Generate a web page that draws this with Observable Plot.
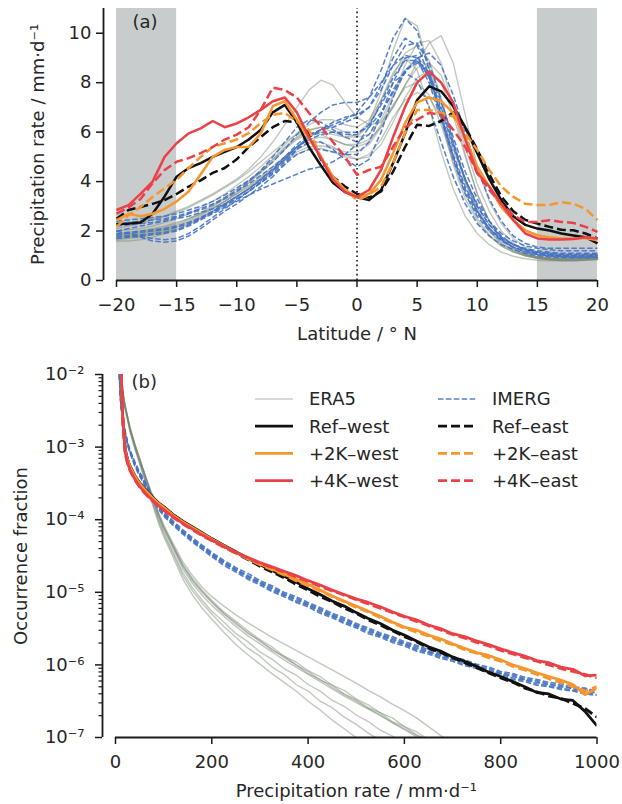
<!DOCTYPE html>
<html><head><meta charset="utf-8">
<script src="https://cdn.jsdelivr.net/npm/d3@7"></script>
<script src="https://cdn.jsdelivr.net/npm/@observablehq/plot@0.6"></script>
<style>
body{margin:0;background:#fff}
#chart{width:622px}
#chart svg{display:block}
</style>
</head><body><div id="chart"></div>
<script>
// ---------------- Panel (a): zonal-mean precipitation vs latitude ----------------
const latitudes = [-20,-19,-18,-17,-16,-15,-14,-13,-12,-11,-10,-9,-8,-7,-6,-5,-4,-3,-2,-1,0,1,2,3,4,5,6,7,8,9,10,11,12,13,14,15,16,17,18,19,20];
const latTicks = [-20,-15,-10,-5,0,5,10,15,20];
const latTickLabels = ["−20","−15","−10","−5","0","5","10","15","20"];
const rateTicks = [0,2,4,6,8,10];
const shadeStart = [-20, 15];
const shadeEnd = [-15, 20];

const refWestLat  = [2.28,2.3,2.35,2.7,3.4,4.2,4.55,4.75,5.0,5.2, 5.4,5.7,6.1,6.8,7.1,6.4,5.4,4.65,3.95,3.58, 3.38,3.25,3.65,4.75,5.95,7.3,7.85,7.65,7.05,6.2, 5.15,4.1,3.25,2.6,2.25,2.1,2.02,1.9,1.82,1.75,1.5];
const refEastLat  = [2.5,2.85,2.97,3.1,3.25,3.5,3.8,4.05,4.35,4.55, 4.9,5.4,5.8,6.2,6.45,6.4,5.95,4.9,4.2,3.8, 3.5,3.35,3.6,4.4,5.4,6.3,6.25,6.45,6.8,6.2, 5.3,4.3,3.4,2.8,2.45,2.3,2.17,2.05,2.03,1.9,1.7];
const plus2WestLat = [2.44,2.7,2.6,2.7,2.9,3.2,3.6,4.3,5.0,5.28, 5.4,5.4,5.95,7.05,7.25,6.5,5.75,5.0,4.2,3.66, 3.38,3.5,4.07,5.15,6.37,7.2,7.4,7.25,6.78,5.8, 4.6,3.8,2.97,2.44,2.03,1.83,1.75,1.7,1.7,1.72,1.63];
const plus2EastLat = [2.17,2.64,2.97,3.38,3.73,4.07,4.55,5.0,5.4,5.55, 5.7,5.96,6.37,6.7,6.78,6.43,6.1,5.0,4.2,3.66, 3.25,3.46,3.8,4.75,5.97,6.9,6.9,6.78,6.63,5.96, 5.28,4.47,3.8,3.38,3.1,3.05,3.05,3.17,3.1,2.9,2.44];
const plus4WestLat = [2.85,3.05,3.5,4.0,5.0,5.55,5.95,6.15,6.45,6.2, 6.35,6.6,6.9,7.25,7.4,6.8,5.8,4.95,4.07,3.58, 3.38,3.66,4.47,5.8,7.03,8.0,8.45,8.0,7.2,5.7, 4.34,3.8,3.1,2.44,1.9,1.7,1.66,1.66,1.68,1.75,1.7];
const plus4EastLat = [2.7,2.95,3.3,3.93,4.47,4.8,4.95,5.15,5.4,5.7, 5.9,6.2,6.9,7.8,7.7,7.4,6.78,6.23,5.6,5.0, 4.27,4.47,4.6,5.4,6.2,6.5,6.78,6.7,6.1,5.4, 4.34,3.66,3.1,2.64,2.37,2.37,2.44,2.37,2.33,2.17,1.97];

const era5Lat = [
[1.8,1.85,1.9,2.0,2.1,2.25,2.45,2.7,3.0,3.3, 3.6,3.95,4.35,4.8,5.3,5.7,5.95,6.0,5.9,5.8, 5.9,6.4,7.6,9.3,10.6,10.3,8.6,6.5,4.7,3.3, 2.4,1.8,1.4,1.15,1.0,0.9,0.85,0.85,0.85,0.88,0.9],
[2.1,2.2,2.3,2.45,2.6,2.8,3.0,3.25,3.5,3.8, 4.1,4.5,5.0,5.6,6.3,7.0,7.7,8.1,7.9,7.2, 6.6,6.3,6.4,7.0,7.9,8.8,9.6,9.9,8.8,6.7, 4.6,3.2,2.3,1.7,1.35,1.15,1.05,1.0,1.0,1.0,1.05],
[1.7,1.75,1.8,1.9,2.0,2.15,2.35,2.6,2.9,3.2, 3.5,3.85,4.2,4.6,5.0,5.4,5.7,5.8,5.7,5.5, 5.4,5.6,6.3,7.4,8.5,9.0,8.6,7.3,5.6,4.0, 2.8,2.0,1.5,1.2,1.0,0.9,0.85,0.8,0.8,0.82,0.85],
[1.6,1.6,1.65,1.75,1.9,2.05,2.25,2.5,2.75,3.05, 3.35,3.7,4.1,4.5,4.95,5.3,5.55,5.6,5.4,5.1, 4.9,5.0,5.5,6.4,7.4,8.2,8.5,8.0,6.7,5.0, 3.5,2.4,1.7,1.3,1.05,0.92,0.85,0.82,0.82,0.85,0.88],
[2.0,2.05,2.1,2.2,2.35,2.5,2.7,2.95,3.2,3.5, 3.85,4.2,4.6,5.05,5.5,5.95,6.3,6.5,6.5,6.3, 6.2,6.5,7.3,8.3,9.2,9.5,8.9,7.4,5.6,4.0, 2.8,2.0,1.5,1.2,1.05,0.95,0.9,0.9,0.9,0.92,0.95],
[1.9,1.95,2.0,2.1,2.2,2.35,2.5,2.7,2.95,3.2, 3.5,3.8,4.15,4.5,4.85,5.1,5.3,5.35,5.2,5.0, 4.9,5.1,5.7,6.6,7.3,7.6,7.4,6.6,5.3,4.0, 2.9,2.1,1.6,1.25,1.05,0.95,0.9,0.88,0.88,0.9,0.92],
[1.75,1.8,1.85,1.95,2.05,2.2,2.4,2.65,2.9,3.2, 3.55,3.95,4.4,4.9,5.4,5.8,6.1,6.2,6.0,5.8, 5.8,6.3,7.3,8.4,9.0,8.5,7.0,5.2,3.7,2.6, 1.9,1.45,1.15,0.98,0.88,0.82,0.8,0.8,0.8,0.82,0.85],
[2.3,2.35,2.4,2.5,2.6,2.75,2.95,3.2,3.45,3.75, 4.05,4.4,4.8,5.2,5.6,5.9,6.0,5.9,5.7,5.5, 5.5,5.7,6.2,7.0,7.9,8.6,8.8,8.3,7.0,5.4, 3.9,2.8,2.0,1.5,1.2,1.05,0.98,0.95,0.95,0.97,1.0],
[1.65,1.7,1.75,1.85,1.95,2.1,2.3,2.55,2.8,3.1, 3.4,3.75,4.1,4.5,4.9,5.2,5.4,5.45,5.35,5.2, 5.2,5.5,6.2,7.1,7.8,8.0,7.5,6.3,4.8,3.5, 2.5,1.85,1.4,1.15,1.0,0.9,0.85,0.83,0.83,0.85,0.87],
[1.85,1.9,1.95,2.05,2.15,2.3,2.5,2.75,3.05,3.35, 3.7,4.05,4.45,4.9,5.35,5.75,6.05,6.2,6.2,6.0, 5.8,5.9,6.5,7.5,8.7,9.6,9.7,8.8,7.0,5.1, 3.5,2.4,1.7,1.3,1.08,0.96,0.9,0.88,0.88,0.9,0.93]
];

const imergLat = [
[2.0,2.1,2.2,2.3,2.4,2.5,2.6,2.75,2.9,3.1, 3.4,3.7,4.1,4.5,5.0,5.5,5.9,6.1,6.2,6.4, 6.6,7.0,7.9,9.0,9.8,9.5,8.3,6.7,5.0,3.6, 2.7,2.1,1.7,1.45,1.3,1.2,1.15,1.1,1.1,1.1,1.1],
[1.8,1.8,1.75,1.6,1.55,1.6,1.8,2.1,2.45,2.8, 3.1,3.45,3.8,4.2,4.7,5.3,5.8,6.1,6.3,6.5, 6.8,7.4,8.5,9.8,10.6,10.1,8.5,6.6,4.9,3.5, 2.6,2.0,1.6,1.35,1.2,1.1,1.05,1.0,1.0,1.0,1.0],
[1.7,1.75,1.8,1.85,1.9,2.0,2.2,2.45,2.7,2.95, 3.2,3.45,3.7,3.9,4.1,4.3,4.5,4.6,4.8,5.1, 5.5,6.2,7.2,8.2,8.9,8.9,8.0,6.5,5.0,3.7, 2.8,2.1,1.65,1.35,1.15,1.05,1.0,0.97,0.95,0.95,0.95],
[2.4,2.45,2.5,2.55,2.6,2.7,2.85,3.0,3.2,3.45, 3.75,4.05,4.4,4.8,5.3,5.9,6.4,6.8,7.1,7.2, 7.2,7.4,8.0,8.7,9.1,9.0,8.2,6.9,5.4,4.1, 3.1,2.4,1.9,1.6,1.4,1.3,1.25,1.2,1.2,1.2,1.2],
[1.9,1.95,2.0,2.05,2.1,2.2,2.35,2.55,2.8,3.05, 3.3,3.6,3.95,4.35,4.8,5.3,5.6,5.6,5.3,4.9, 4.6,4.9,6.0,7.4,8.5,8.9,8.4,7.2,5.8,4.4, 3.3,2.4,1.8,1.45,1.25,1.1,1.05,1.0,1.0,1.0,1.02],
[2.2,2.25,2.3,2.35,2.45,2.55,2.7,2.85,3.05,3.3, 3.6,3.9,4.25,4.6,5.0,5.4,5.7,5.9,6.0,6.0, 6.0,6.2,6.8,7.6,8.4,9.0,9.2,8.7,7.5,6.0, 4.5,3.3,2.4,1.8,1.5,1.35,1.3,1.3,1.3,1.3,1.3],
[1.75,1.8,1.85,1.9,1.95,2.05,2.25,2.5,2.8,3.1, 3.4,3.7,4.05,4.45,4.9,5.4,5.8,6.0,6.0,5.9, 5.9,6.3,7.1,8.0,8.4,8.1,7.0,5.6,4.2,3.1, 2.3,1.8,1.45,1.25,1.1,1.0,0.95,0.93,0.92,0.92,0.93],
[2.0,1.9,1.8,1.7,1.65,1.7,1.9,2.2,2.55,2.9, 3.25,3.6,4.0,4.4,4.9,5.4,5.8,6.1,6.4,6.6, 6.7,7.0,7.7,8.7,9.5,9.6,8.8,7.3,5.6,4.1, 3.0,2.25,1.75,1.45,1.25,1.15,1.1,1.05,1.05,1.05,1.05],
[2.3,2.35,2.4,2.45,2.5,2.6,2.75,2.9,3.1,3.35, 3.65,4.0,4.45,5.0,5.6,6.2,6.5,6.4,6.1,5.8, 5.6,5.9,6.7,7.7,8.5,8.8,8.3,7.0,5.5,4.1, 3.0,2.25,1.75,1.45,1.25,1.15,1.1,1.05,1.05,1.05,1.05],
[1.85,1.9,1.95,2.0,2.05,2.15,2.3,2.5,2.75,3.0, 3.3,3.6,3.95,4.3,4.7,5.1,5.3,5.3,5.2,5.1, 5.1,5.6,6.7,8.0,9.0,9.1,8.2,6.7,5.1,3.8, 2.8,2.1,1.65,1.35,1.15,1.05,1.0,0.98,0.97,0.97,0.98]
];

// ---------------- Panel (b): occurrence fraction vs precipitation rate (log10 values) ----------------
const rainMain = [8,10,12,15,20,25,30,40,50,60,70,80,90,100,120,140,160,180,200,225,250,275,300,325,350,375,400,425,450,475,500,525,550,575,600,625,650,675,700,725,750,775,800,825,850,875,900,925,950,975,1000];
const refWestPdf  = [-1.5,-1.75,-2.0,-2.6,-3.02,-3.17,-3.26,-3.39,-3.49,-3.57,-3.64,-3.71,-3.77,-3.82,-3.93,-4.02,-4.10,-4.18,-4.26,-4.35,-4.44,-4.53,-4.62,-4.70,-4.78,-4.86,-4.95,-5.03,-5.12,-5.19,-5.28,-5.36,-5.43,-5.52,-5.59,-5.67,-5.75,-5.81,-5.89,-5.95,-6.02,-6.10,-6.16,-6.23,-6.30,-6.38,-6.40,-6.47,-6.49,-6.64,-6.84];
const refEastPdf  = [-1.52,-1.77,-2.02,-2.62,-3.04,-3.18,-3.27,-3.40,-3.50,-3.58,-3.65,-3.72,-3.78,-3.83,-3.94,-4.03,-4.12,-4.20,-4.28,-4.37,-4.46,-4.55,-4.64,-4.72,-4.80,-4.89,-4.97,-5.06,-5.13,-5.22,-5.29,-5.38,-5.45,-5.53,-5.61,-5.68,-5.77,-5.83,-5.90,-5.97,-6.04,-6.11,-6.18,-6.24,-6.32,-6.37,-6.43,-6.46,-6.53,-6.60,-6.72];
const plus2WestPdf = [-1.52,-1.77,-2.02,-2.6,-3.05,-3.18,-3.27,-3.40,-3.50,-3.58,-3.65,-3.72,-3.78,-3.83,-3.94,-4.03,-4.11,-4.19,-4.27,-4.36,-4.45,-4.53,-4.61,-4.68,-4.75,-4.82,-4.89,-4.97,-5.05,-5.12,-5.19,-5.26,-5.33,-5.41,-5.48,-5.52,-5.59,-5.64,-5.71,-5.77,-5.83,-5.87,-5.93,-6.00,-6.05,-6.11,-6.16,-6.21,-6.27,-6.41,-6.32];
const plus2EastPdf = [-1.53,-1.78,-2.03,-2.61,-3.06,-3.19,-3.28,-3.41,-3.51,-3.59,-3.66,-3.73,-3.79,-3.84,-3.95,-4.04,-4.12,-4.20,-4.28,-4.37,-4.46,-4.54,-4.62,-4.69,-4.76,-4.84,-4.91,-4.98,-5.06,-5.13,-5.21,-5.27,-5.35,-5.42,-5.49,-5.55,-5.60,-5.67,-5.72,-5.79,-5.84,-5.90,-5.95,-6.02,-6.07,-6.13,-6.19,-6.24,-6.30,-6.36,-6.30];
const plus4WestPdf = [-1.5,-1.75,-2.0,-2.58,-3.07,-3.22,-3.31,-3.44,-3.54,-3.62,-3.69,-3.75,-3.81,-3.86,-3.96,-4.05,-4.13,-4.21,-4.28,-4.37,-4.45,-4.52,-4.59,-4.65,-4.71,-4.77,-4.84,-4.90,-4.97,-5.03,-5.09,-5.14,-5.20,-5.27,-5.33,-5.38,-5.45,-5.50,-5.57,-5.61,-5.67,-5.72,-5.78,-5.83,-5.88,-5.94,-5.97,-6.03,-6.06,-6.15,-6.14];
const plus4EastPdf = [-1.51,-1.76,-2.01,-2.59,-3.08,-3.23,-3.32,-3.45,-3.55,-3.63,-3.70,-3.76,-3.82,-3.87,-3.97,-4.06,-4.14,-4.22,-4.29,-4.38,-4.46,-4.53,-4.60,-4.66,-4.72,-4.79,-4.85,-4.92,-4.98,-5.04,-5.10,-5.16,-5.22,-5.28,-5.34,-5.40,-5.46,-5.52,-5.58,-5.63,-5.69,-5.74,-5.80,-5.85,-5.90,-5.95,-6.00,-6.05,-6.09,-6.13,-6.18];

const imergPdf = [
[-2.0,-2.3,-2.45,-2.6,-2.8,-2.95,-3.06,-3.23,-3.37,-3.49,-3.61,-3.73,-3.83,-3.92,-4.05,-4.17,-4.28,-4.38,-4.48,-4.59,-4.69,-4.78,-4.87,-4.95,-5.03,-5.10,-5.17,-5.25,-5.32,-5.39,-5.46,-5.53,-5.59,-5.65,-5.71,-5.77,-5.82,-5.87,-5.92,-5.97,-6.02,-6.07,-6.12,-6.16,-6.20,-6.24,-6.27,-6.30,-6.33,-6.36,-6.39],
[-1.98,-2.28,-2.43,-2.58,-2.78,-2.93,-3.04,-3.2,-3.34,-3.46,-3.58,-3.7,-3.8,-3.89,-4.02,-4.14,-4.25,-4.35,-4.45,-4.56,-4.66,-4.74,-4.84,-4.91,-5.0,-5.06,-5.14,-5.21,-5.29,-5.35,-5.43,-5.49,-5.56,-5.61,-5.68,-5.73,-5.79,-5.83,-5.89,-5.93,-5.99,-6.03,-6.09,-6.12,-6.17,-6.2,-6.24,-6.26,-6.3,-6.32,-6.36],
[-2.02,-2.32,-2.47,-2.62,-2.82,-2.97,-3.08,-3.26,-3.4,-3.52,-3.64,-3.76,-3.86,-3.95,-4.08,-4.2,-4.31,-4.41,-4.51,-4.63,-4.72,-4.82,-4.9,-4.99,-5.06,-5.14,-5.2,-5.29,-5.35,-5.43,-5.49,-5.57,-5.62,-5.69,-5.74,-5.81,-5.85,-5.91,-5.95,-6.01,-6.05,-6.11,-6.15,-6.2,-6.23,-6.28,-6.3,-6.34,-6.36,-6.4,-6.42],
[-2.0,-2.31,-2.46,-2.61,-2.8,-2.95,-3.07,-3.24,-3.38,-3.5,-3.62,-3.74,-3.84,-3.93,-4.06,-4.18,-4.29,-4.39,-4.49,-4.61,-4.7,-4.8,-4.88,-4.97,-5.04,-5.12,-5.18,-5.27,-5.33,-5.41,-5.47,-5.55,-5.6,-5.67,-5.72,-5.79,-5.83,-5.89,-5.93,-5.99,-6.03,-6.09,-6.13,-6.18,-6.21,-6.26,-6.29,-6.32,-6.35,-6.38,-6.41],
[-1.99,-2.29,-2.44,-2.59,-2.79,-2.94,-3.05,-3.22,-3.36,-3.48,-3.6,-3.72,-3.82,-3.91,-4.04,-4.16,-4.27,-4.37,-4.47,-4.58,-4.68,-4.77,-4.86,-4.93,-5.02,-5.08,-5.16,-5.23,-5.31,-5.37,-5.45,-5.51,-5.58,-5.63,-5.7,-5.75,-5.81,-5.85,-5.91,-5.95,-6.01,-6.05,-6.11,-6.14,-6.19,-6.22,-6.26,-6.28,-6.32,-6.34,-6.37]
];

const rainEra5 = [5,8,10,15,20,30,40,50,60,70,80,90,100,120,140,160,180,200,225,250,275,300,325,350,375,400,425,450,475,500,525,550,575,600,625,650,675,700];
const era5Pdf = [
[-1.7,-1.95,-2.05,-2.25,-2.45,-2.75,-2.98,-3.18,-3.38,-3.58,-3.78,-3.97,-4.13,-4.40,-4.68,-4.88,-5.04,-5.18,-5.33,-5.47,-5.60,-5.71,-5.82,-5.93,-6.03,-6.13,-6.23,-6.33,-6.43,-6.52,-6.61,-6.70,-6.79,-6.88,-6.97,-7.06,-7.15,-7.25],
[-1.68,-1.92,-2.02,-2.22,-2.42,-2.72,-2.95,-3.15,-3.35,-3.54,-3.73,-3.91,-4.07,-4.33,-4.58,-4.77,-4.93,-5.06,-5.19,-5.31,-5.42,-5.52,-5.62,-5.71,-5.80,-5.89,-5.98,-6.07,-6.16,-6.25,-6.35,-6.44,-6.54,-6.63,-6.73,-6.85,-6.97,-7.08],
[-1.72,-1.97,-2.07,-2.28,-2.48,-2.79,-3.02,-3.23,-3.44,-3.65,-3.86,-4.06,-4.23,-4.52,-4.82,-5.04,-5.22,-5.37,-5.55,-5.72,-5.86,-5.99,-6.12,-6.24,-6.36,-6.50,-6.62,-6.76,-6.88,-7.0,-7.12,-7.25,-7.35,-7.45,-7.55,-7.65,-7.75,-7.85],
[-1.69,-1.94,-2.04,-2.24,-2.44,-2.74,-2.97,-3.17,-3.37,-3.57,-3.76,-3.95,-4.11,-4.38,-4.65,-4.85,-5.0,-5.14,-5.30,-5.42,-5.57,-5.66,-5.80,-5.88,-6.0,-6.09,-6.21,-6.28,-6.40,-6.48,-6.59,-6.66,-6.78,-6.85,-6.96,-7.04,-7.14,-7.24],
[-1.71,-1.96,-2.06,-2.26,-2.46,-2.76,-3.0,-3.2,-3.4,-3.61,-3.81,-4.0,-4.17,-4.45,-4.73,-4.94,-5.11,-5.26,-5.41,-5.57,-5.68,-5.82,-5.92,-6.05,-6.14,-6.27,-6.36,-6.49,-6.57,-6.69,-6.78,-6.90,-6.98,-7.1,-7.2,-7.3,-7.4,-7.5],
[-1.7,-1.95,-2.05,-2.24,-2.44,-2.74,-2.97,-3.16,-3.36,-3.55,-3.75,-3.93,-4.09,-4.36,-4.62,-4.81,-4.97,-5.11,-5.27,-5.40,-5.53,-5.65,-5.75,-5.88,-5.96,-6.08,-6.16,-6.28,-6.35,-6.47,-6.55,-6.66,-6.73,-6.85,-6.92,-7.03,-7.1,-7.2],
[-1.71,-1.96,-2.06,-2.27,-2.47,-2.77,-3.01,-3.21,-3.42,-3.63,-3.83,-4.03,-4.2,-4.48,-4.77,-4.98,-5.15,-5.30,-5.47,-5.62,-5.77,-5.88,-6.03,-6.13,-6.27,-6.36,-6.50,-6.59,-6.72,-6.82,-6.94,-7.04,-7.15,-7.25,-7.35,-7.45,-7.55,-7.65],
[-1.69,-1.93,-2.03,-2.23,-2.43,-2.73,-2.96,-3.16,-3.36,-3.56,-3.75,-3.94,-4.1,-4.37,-4.63,-4.83,-4.99,-5.13,-5.29,-5.44,-5.55,-5.68,-5.78,-5.90,-6.0,-6.12,-6.2,-6.31,-6.41,-6.50,-6.60,-6.69,-6.80,-6.89,-6.99,-7.08,-7.18,-7.28]
];

const rainTicks = [0,200,400,600,800,1000];
const fracTicks = [1e-7,1e-6,1e-5,1e-4,1e-3,1e-2];
const fracTickLabels = ["10⁻⁷","10⁻⁶","10⁻⁵","10⁻⁴","10⁻³","10⁻²"];
const minorMantissas = [2,3,4,5,6,7,8,9];

const legendLabels = ["ERA5","Ref–west","+2K–west","+4K–west","IMERG","Ref–east","+2K–east","+4K–east"];

// ---------------- styles ----------------
const FONT = "'DejaVu Sans', sans-serif";
const INK = "#262626";
const SPINE = "#1a1a1a";
const ERA5_C = "#768470";
const IMERG_C = "#4472c4";
const REF_C = "#111111";
const P2_C = "#f5962f";
const P4_C = "#ea4148";
const EAST_DASH = "9,4";
const IMERG_DASH = "5.5,2.4";

const era5RowsA = era5Lat.flatMap((vals, k) => vals.map((v, i) => ({lat: latitudes[i], v, run: k})));
const imergRowsA = imergLat.flatMap((vals, k) => vals.map((v, i) => ({lat: latitudes[i], v, run: k})));
const era5RowsB = era5Pdf.flatMap((vals, k) => vals.map((e, i) => ({p: rainEra5[i], f: Math.pow(10, e), run: k})));
const imergRowsB = imergPdf.flatMap((vals, k) => vals.map((e, i) => ({p: rainMain[i], f: Math.pow(10, e), run: k})));
const pdfRows = (vals) => vals.map((e, i) => ({p: rainMain[i], f: Math.pow(10, e)}));
const minorTicks = fracTicks.slice(0, -1).flatMap(d => minorMantissas.map(m => m * d));

const mainA = (vals, color, dashed) => Plot.line(vals, {
  x: latitudes, y: vals, stroke: color, strokeWidth: 2.5,
  strokeDasharray: dashed ? EAST_DASH : null, strokeLinecap: "butt", strokeLinejoin: "round"
});
const mainB = (vals, color, dashed) => Plot.line(pdfRows(vals), {
  x: "p", y: "f", stroke: color, strokeWidth: 2.8, clip: true,
  strokeDasharray: dashed ? EAST_DASH : null, strokeLinecap: "butt", strokeLinejoin: "round"
});

const chartA = Plot.plot({
  width: 622, height: 345,
  marginLeft: 116, marginRight: 25, marginTop: 8, marginBottom: 65,
  style: {fontFamily: FONT, fontSize: "18px", color: INK, background: "#fff", overflow: "visible"},
  x: {domain: [-20, 20], label: null},
  y: {domain: [0, 11], label: null},
  marks: [
    Plot.rect(shadeStart, {x1: shadeStart, x2: shadeEnd, y1: 0, y2: 11, fill: "#c9cccc"}),
    Plot.line(era5RowsA, {x: "lat", y: "v", z: "run", stroke: ERA5_C, strokeOpacity: 0.45, strokeWidth: 1.4}),
    Plot.line(imergRowsA, {x: "lat", y: "v", z: "run", stroke: IMERG_C, strokeOpacity: 0.9, strokeWidth: 1.5, strokeDasharray: IMERG_DASH, strokeLinecap: "butt"}),
    Plot.ruleX([0], {y1: 0, y2: 11, stroke: "#111", strokeWidth: 1.6, strokeDasharray: "1.6,3", strokeLinecap: "butt"}),
    mainA(refWestLat, REF_C, false),
    mainA(refEastLat, REF_C, true),
    mainA(plus2WestLat, P2_C, false),
    mainA(plus2EastLat, P2_C, true),
    mainA(plus4WestLat, P4_C, false),
    mainA(plus4EastLat, P4_C, true),
    Plot.axisX({ticks: latTicks, tickFormat: (d, i) => latTickLabels[i], tickSize: 7, tickPadding: 11, strokeWidth: 1.5, stroke: SPINE, label: null}),
    Plot.axisY({ticks: rateTicks, tickFormat: () => "", tickSize: 7, dx: -13, strokeWidth: 1.5, stroke: SPINE, label: null}),
    Plot.text(rateTicks, {y: d => d, text: d => String(d), frameAnchor: "left", dx: -25, textAnchor: "end", lineAnchor: "middle", fill: INK}),
    Plot.ruleY([0], {x1: -20, x2: 20, stroke: SPINE, strokeWidth: 1.8}),
    Plot.ruleX([-20], {y1: 0, y2: 11, dx: -13, stroke: SPINE, strokeWidth: 1.8}),
    Plot.text(["(a)"], {text: d => d, frameAnchor: "top-left", dx: 16, dy: 7, textAnchor: "start", lineAnchor: "top", fill: INK}),
    Plot.text(["Latitude / ° N"], {text: d => d, frameAnchor: "bottom", dy: 54, textAnchor: "middle", lineAnchor: "middle", fill: INK}),
    Plot.text(["Precipitation rate / mm·d⁻¹"], {text: d => d, frameAnchor: "left", dx: -78, rotate: -90, textAnchor: "middle", lineAnchor: "middle", fill: INK})
  ]
});

const chartB = Plot.plot({
  width: 622, height: 459,
  marginLeft: 115, marginRight: 25.5, marginTop: 29, marginBottom: 67,
  style: {fontFamily: FONT, fontSize: "18px", color: INK, background: "#fff", overflow: "visible"},
  x: {domain: [0, 1000], label: null},
  y: {type: "log", domain: [1e-7, 1e-2], label: null},
  marks: [
    Plot.line(era5RowsB, {x: "p", y: "f", z: "run", stroke: ERA5_C, strokeOpacity: 0.45, strokeWidth: 1.4, clip: true}),
    Plot.line(imergRowsB, {x: "p", y: "f", z: "run", stroke: IMERG_C, strokeOpacity: 0.9, strokeWidth: 1.6, strokeDasharray: IMERG_DASH, strokeLinecap: "butt", clip: true}),
    mainB(refWestPdf, REF_C, false),
    mainB(refEastPdf, REF_C, true),
    mainB(plus2WestPdf, P2_C, false),
    mainB(plus2EastPdf, P2_C, true),
    mainB(plus4WestPdf, P4_C, false),
    mainB(plus4EastPdf, P4_C, true),
    Plot.axisX({ticks: rainTicks, tickFormat: d => String(d), tickSize: 7, tickPadding: 11, strokeWidth: 1.5, stroke: SPINE, label: null}),
    Plot.axisY({ticks: minorTicks, tickFormat: () => "", tickSize: 3.5, dx: -13, strokeWidth: 1.2, stroke: SPINE, label: null}),
    Plot.axisY({ticks: fracTicks, tickFormat: () => "", tickSize: 7, dx: -13, strokeWidth: 1.5, stroke: SPINE, label: null}),
    Plot.text(fracTicks, {y: d => d, text: (d, i) => fracTickLabels[i], frameAnchor: "left", dx: -31, textAnchor: "end", lineAnchor: "middle", fill: INK}),
    Plot.ruleY([1e-7], {x1: 0, x2: 1000, stroke: SPINE, strokeWidth: 1.8}),
    Plot.ruleX([0], {y1: 1e-7, y2: 1e-2, dx: -13, stroke: SPINE, strokeWidth: 1.8}),
    Plot.text(["(b)"], {text: d => d, frameAnchor: "top-left", dx: 16, dy: 1, textAnchor: "start", lineAnchor: "top", fill: INK}),
    Plot.text(["Precipitation rate / mm·d⁻¹"], {text: d => d, frameAnchor: "bottom", dy: 54, textAnchor: "middle", lineAnchor: "middle", fill: INK}),
    Plot.text(["Occurrence fraction"], {text: d => d, frameAnchor: "left", dx: -94, rotate: -90, textAnchor: "middle", lineAnchor: "middle", fill: INK})
  ]
});

// legend (two columns) drawn inside panel (b)
const legendStroke = [ERA5_C, REF_C, P2_C, P4_C, IMERG_C, REF_C, P2_C, P4_C];
const legendOpacity = [0.4, 1, 1, 1, 0.9, 1, 1, 1];
const legendWidth = [1.6, 2.8, 2.8, 2.8, 1.6, 2.8, 2.8, 2.8];
const legendDash = [null, null, null, null, IMERG_DASH, EAST_DASH, EAST_DASH, EAST_DASH];
const lg = d3.select(chartB).append("g")
  .attr("font-family", FONT).attr("font-size", 18).attr("fill", INK).attr("text-anchor", "start");
legendLabels.forEach((label, i) => {
  const col = Math.floor(i / 4), row = i % 4;
  const hx = [255, 438][col], tx = [309, 492][col];
  const y = 54 + row * 27.2;
  lg.append("line").attr("x1", hx).attr("x2", hx + 38).attr("y1", y).attr("y2", y)
    .attr("stroke", legendStroke[i]).attr("stroke-opacity", legendOpacity[i])
    .attr("stroke-width", legendWidth[i]).attr("stroke-dasharray", legendDash[i]);
  lg.append("text").attr("x", tx).attr("y", y).attr("dy", "0.35em").attr("text-anchor", "start").text(label);
});

document.getElementById("chart").append(chartA, chartB);
</script></body></html>
